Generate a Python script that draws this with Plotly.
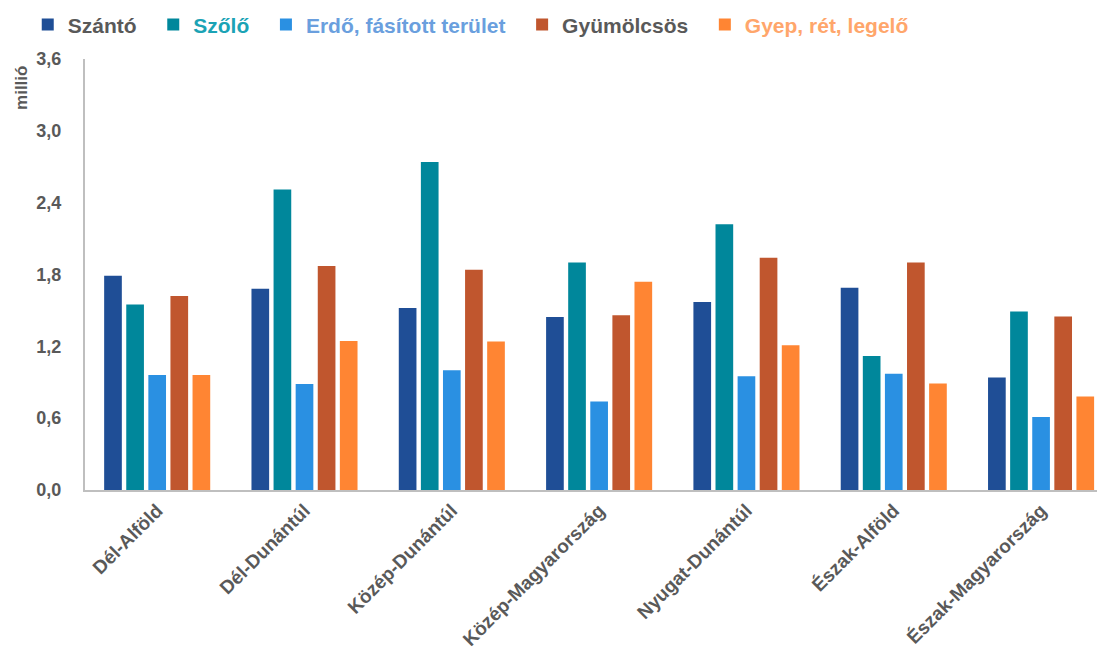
import plotly.graph_objects as go

categories = ["Dél-Alföld", "Dél-Dunántúl", "Közép-Dunántúl", "Közép-Magyarország",
              "Nyugat-Dunántúl", "Észak-Alföld", "Észak-Magyarország"]
szanto = [1.79, 1.68, 1.52, 1.445, 1.57, 1.69, 0.94]
szolo = [1.55, 2.51, 2.74, 1.90, 2.22, 1.12, 1.49]
erdo = [0.96, 0.885, 1.00, 0.74, 0.95, 0.97, 0.61]
gyumolcsos = [1.62, 1.87, 1.84, 1.46, 1.94, 1.90, 1.45]
gyep = [0.96, 1.245, 1.24, 1.74, 1.21, 0.89, 0.78]
y_ticks = [0, 0.6, 1.2, 1.8, 2.4, 3.0, 3.6]

series = [
    ("Szántó", szanto, "#1F4E96", "#595959"),
    ("Szőlő", szolo, "#00879B", "#1BA3B5"),
    ("Erdő, fásított terület", erdo, "#2A90E2", "#6A9FDE"),
    ("Gyümölcsös", gyumolcsos, "#C0562E", "#595959"),
    ("Gyep, rét, legelő", gyep, "#FF8533", "#FFA66B"),
]

fig = go.Figure()
for name, vals, color, tcolor in series:
    fig.add_trace(go.Bar(
        x=categories, y=vals, marker_color=color, marker_line_width=0,
        name=f"<span style='color:{tcolor}'>{name}</span>\u00a0\u00a0",
    ))

fig.update_layout(
    width=1097, height=647,
    paper_bgcolor="white", plot_bgcolor="white",
    margin=dict(l=77, r=5, t=51, b=165, autoexpand=False),
    barmode="group", bargap=0.25, bargroupgap=0.2,
    separators=",.",
    font=dict(family="Liberation Sans, Arial, sans-serif", size=16, color="#595959"),
    legend=dict(orientation="h", x=0.018, xref="container", xanchor="left",
                y=1.079, yref="paper", yanchor="middle",
                font=dict(size=21, weight="bold"),
                itemwidth=30, traceorder="normal"),
    showlegend=True,
)

fig.update_xaxes(
    range=[-0.49, 6.40],
    showline=True, linecolor="#BFBFBF", linewidth=2, automargin=False,
    tickangle=-45, tickfont=dict(size=19, weight="bold", color="#595959"),
    ticks="", showgrid=False,
)
fig.update_yaxes(
    range=[0, 3.6], tickvals=y_ticks, tickformat=".1f", automargin=False,
    showline=True, linecolor="#BFBFBF", linewidth=2,
    showgrid=False, zeroline=False, ticks="",
    tickfont=dict(size=18, weight="bold", color="#595959"),
    ticklabelstandoff=18,
)
fig.add_annotation(
    text="<b>millió</b>", textangle=-90, showarrow=False,
    xref="paper", yref="paper", x=-0.062, y=0.933,
    xanchor="center", yanchor="middle",
    font=dict(size=17, color="#595959"),
)

fig.write_html("out.html")
